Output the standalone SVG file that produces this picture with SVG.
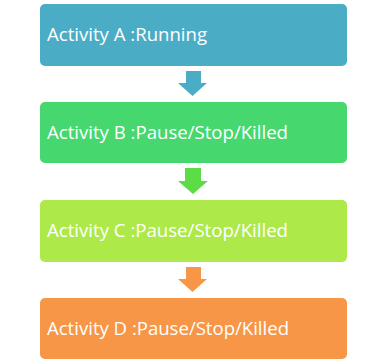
<svg xmlns="http://www.w3.org/2000/svg" width="385" height="364" viewBox="0 0 385 364">
<style>
.box{stroke:none}
.t{font-family:"Open Sans","Liberation Sans",sans-serif;font-size:18px;fill:#ffffff}
</style>
<rect width="385" height="364" fill="#ffffff"/>
<g id="connectors">
<path d="M186,71 H201 V83 H207 L192.5,96 L178,83 H186 Z" fill="#4BACC6"/>
<path d="M185,168 H201 V181 H208 L193,194 L178,181 H185 Z" fill="#5CDC45"/>
<path d="M186,267 H201 V279 H207 L192.5,292 L178,279 H186 Z" fill="#F79646"/>
</g>
<g id="nodeA"><rect class="box" x="40" y="4" width="307" height="62" rx="5" fill="#4BACC6"/><text class="t" x="47" y="41" textLength="160" lengthAdjust="spacingAndGlyphs">Activity A :Running</text></g>
<g id="nodeB"><rect class="box" x="40" y="102" width="307" height="61" rx="5" fill="#46D86F"/><text class="t" x="47" y="139" textLength="241" lengthAdjust="spacingAndGlyphs">Activity B :Pause/Stop/Killed</text></g>
<g id="nodeC"><rect class="box" x="40" y="200" width="307" height="62" rx="5" fill="#AEE94A"/><text class="t" x="47" y="237" textLength="241" lengthAdjust="spacingAndGlyphs">Activity C :Pause/Stop/Killed</text></g>
<g id="nodeD"><rect class="box" x="40" y="298" width="307" height="61" rx="5" fill="#F79646"/><text class="t" x="47" y="335" textLength="242" lengthAdjust="spacingAndGlyphs">Activity D :Pause/Stop/Killed</text></g>
</svg>
